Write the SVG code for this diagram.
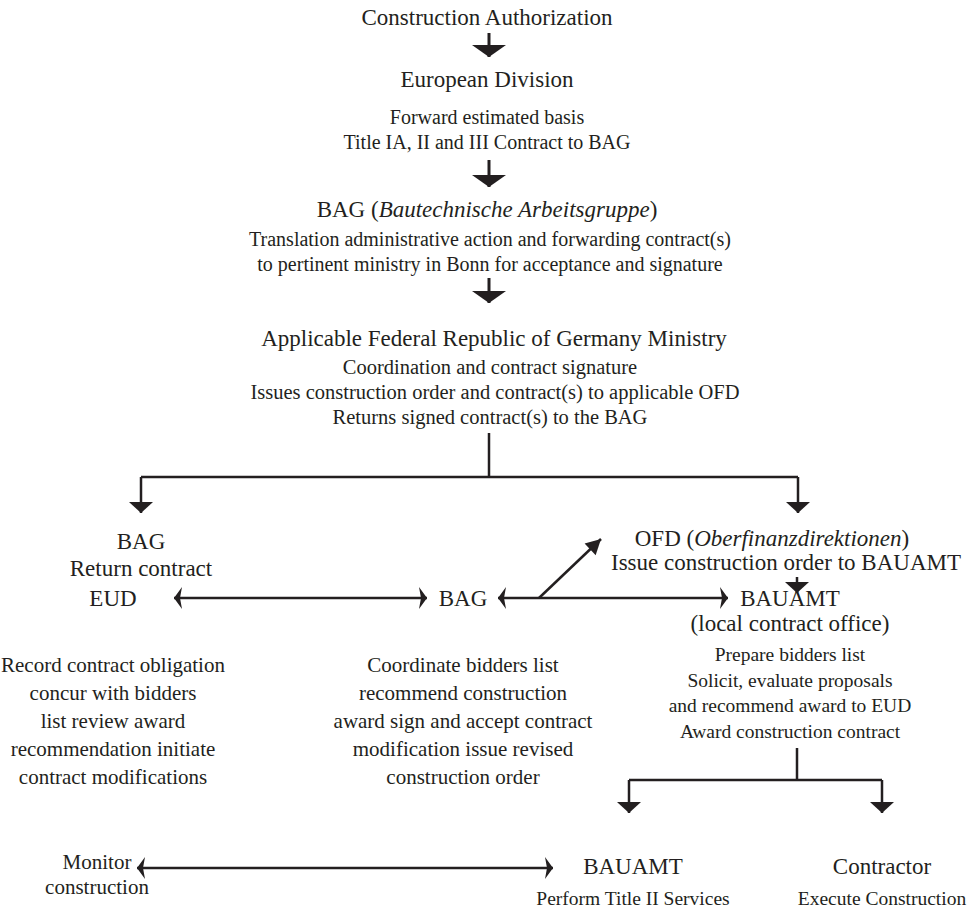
<svg xmlns="http://www.w3.org/2000/svg" width="971" height="915" viewBox="0 0 971 915">
<style>
text{font-family:"Liberation Serif","Times New Roman",serif;fill:#231f20;text-anchor:middle}
.h{font-size:23px}
.b{font-size:20px}
.m{font-size:20.5px}
.e{font-size:21px}
.s{font-size:19.5px}
.c{stroke:#231f20;stroke-width:2.5;fill:none}
.t{stroke:#231f20;stroke-width:3;fill:none}
</style>
<defs>
<marker id="big" markerUnits="userSpaceOnUse" viewBox="-1 -18 14 36" refX="12" refY="0" markerWidth="14" markerHeight="36" orient="auto"><path d="M0,-17 L12,0 L0,17 z" fill="#231f20"/></marker>
<marker id="mid" markerUnits="userSpaceOnUse" viewBox="-1 -13 13 26" refX="11" refY="0" markerWidth="13" markerHeight="26" orient="auto"><path d="M0,-12 L11,0 L0,12 z" fill="#231f20"/></marker>
<marker id="dbl" markerUnits="userSpaceOnUse" viewBox="-1 -12 10 24" refX="8" refY="0" markerWidth="10" markerHeight="24" orient="auto-start-reverse"><path d="M0,-11 L8,0 L0,11 L2,0 z" fill="#231f20"/></marker>
<marker id="dia" markerUnits="userSpaceOnUse" viewBox="-1 -9 17 18" refX="15" refY="0" markerWidth="17" markerHeight="18" orient="auto"><path d="M0,-8 L15,0 L0,8 z" fill="#231f20"/></marker>
</defs>
<g id="connectors">
<line class="t" x1="489" y1="33" x2="489" y2="57" marker-end="url(#big)"/>
<line class="t" x1="489" y1="160" x2="489" y2="187" marker-end="url(#big)"/>
<line class="t" x1="489" y1="278" x2="489" y2="303" marker-end="url(#big)"/>
<polyline class="c" points="489,433 489,477"/>
<polyline class="c" points="141,477 798,477"/>
<line class="c" x1="141" y1="477" x2="141" y2="513" marker-end="url(#mid)"/>
<line class="c" x1="798" y1="477" x2="798" y2="513" marker-end="url(#mid)"/>
<line class="c" x1="797" y1="577" x2="797" y2="593" marker-end="url(#mid)"/>
<line class="c" x1="174" y1="598" x2="427" y2="598" marker-start="url(#dbl)" marker-end="url(#dbl)"/>
<line class="c" x1="498" y1="598" x2="728" y2="598" marker-start="url(#dbl)" marker-end="url(#dbl)"/>
<line class="c" x1="539" y1="598" x2="601" y2="539" marker-end="url(#dia)"/>
<polyline class="c" points="797,748 797,780"/>
<polyline class="c" points="629,780 882,780"/>
<line class="c" x1="629" y1="780" x2="629" y2="813" marker-end="url(#mid)"/>
<line class="c" x1="882" y1="780" x2="882" y2="813" marker-end="url(#mid)"/>
<line class="c" x1="137" y1="868" x2="553" y2="868" marker-start="url(#dbl)" marker-end="url(#dbl)"/>
</g>
<g id="auth"><text class="h" x="487" y="25">Construction Authorization</text></g>
<g id="eudiv">
<text class="h" x="487" y="87">European Division</text>
<text class="b" x="487" y="124">Forward estimated basis</text>
<text class="b" x="487" y="149">Title IA, II and III Contract to BAG</text>
</g>
<g id="bag-top">
<text class="h" x="487" y="217">BAG (<tspan font-style="italic">Bautechnische Arbeitsgruppe</tspan>)</text>
<text class="b" x="490" y="246">Translation administrative action and forwarding contract(s)</text>
<text class="b" x="490" y="271">to pertinent ministry in Bonn for acceptance and signature</text>
</g>
<g id="ministry">
<text class="h" x="494" y="346">Applicable Federal Republic of Germany Ministry</text>
<text class="m" x="490" y="374">Coordination and contract signature</text>
<text class="m" x="495" y="399">Issues construction order and contract(s) to applicable OFD</text>
<text class="m" x="490" y="424">Returns signed contract(s) to the BAG</text>
</g>
<g id="bag-return">
<text class="h" x="141" y="549">BAG</text>
<text class="h" x="141" y="576">Return contract</text>
</g>
<g id="ofd">
<text class="h" x="772" y="546">OFD (<tspan font-style="italic">Oberfinanzdirektionen</tspan>)</text>
<text class="h" x="786" y="570">Issue construction order to BAUAMT</text>
</g>
<g id="eud">
<text class="h" x="113" y="606">EUD</text>
<text class="e" x="113" y="672">Record contract obligation</text>
<text class="e" x="113" y="700">concur with bidders</text>
<text class="e" x="113" y="728">list review award</text>
<text class="e" x="113" y="756">recommendation initiate</text>
<text class="e" x="113" y="784">contract modifications</text>
</g>
<g id="bag-mid">
<text class="h" x="463" y="606">BAG</text>
<text class="e" x="463" y="672">Coordinate bidders list</text>
<text class="e" x="463" y="700">recommend construction</text>
<text class="e" x="463" y="728">award sign and accept contract</text>
<text class="e" x="463" y="756">modification issue revised</text>
<text class="e" x="463" y="784">construction order</text>
</g>
<g id="bauamt">
<text class="h" x="790" y="606">BAUAMT</text>
<text class="h" x="790" y="631">(local contract office)</text>
<text class="s" x="790" y="661">Prepare bidders list</text>
<text class="s" x="790" y="687">Solicit, evaluate proposals</text>
<text class="s" x="790" y="712">and recommend award to EUD</text>
<text class="s" x="790" y="738">Award construction contract</text>
</g>
<g id="monitor">
<text class="e" x="97" y="869">Monitor</text>
<text class="e" x="97" y="894">construction</text>
</g>
<g id="bauamt2">
<text class="h" x="633" y="874">BAUAMT</text>
<text class="s" x="633" y="905">Perform Title II Services</text>
</g>
<g id="contractor">
<text class="h" x="882" y="874">Contractor</text>
<text class="s" x="882" y="905">Execute Construction</text>
</g>
</svg>
